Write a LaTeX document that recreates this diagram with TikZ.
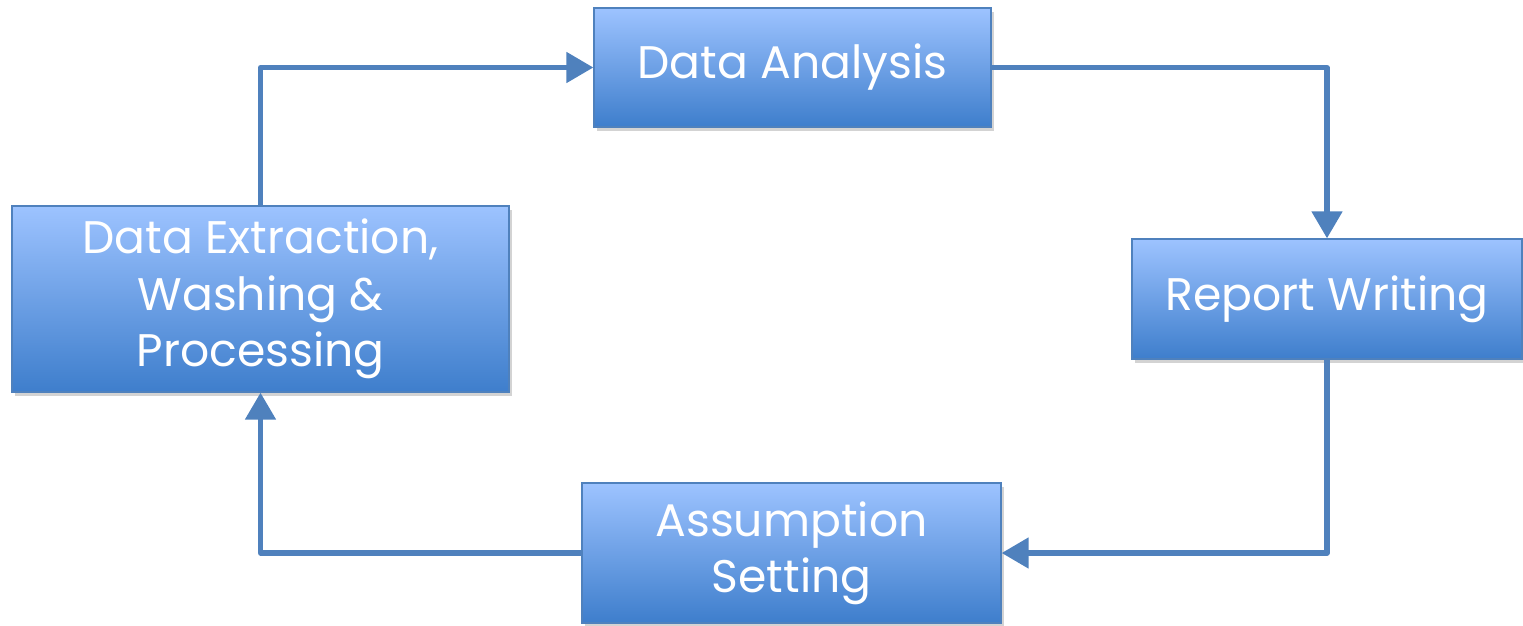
\documentclass[tikz,border=0pt]{standalone}
\usepackage{fontspec}
\setmainfont{Poppins}
\usepackage{tikz}
\usetikzlibrary{arrows.meta,shadows}
\definecolor{boxtop}{RGB}{157,195,255}
\definecolor{boxbottom}{RGB}{62,126,204}
\definecolor{boxline}{RGB}{79,129,189}
\tikzset{
	stage/.style={rectangle, draw=boxline, line width=0.8pt,
		top color=boxtop, bottom color=boxbottom, text=white,
		align=center, inner sep=0pt,
		font=\fontsize{26}{32}\selectfont,
		drop shadow={shadow xshift=1.5pt, shadow yshift=-2.5pt, opacity=0.35}},
	flow/.style={draw=boxline, line width=2.9pt, line join=round,
		-{Triangle[length=0.54cm, width=0.6cm]}}
}

\begin{document}
\begin{tikzpicture}[x=0.02cm, y=-0.02cm]
	\useasboundingbox (0,0) rectangle (1523,625);
	\node[stage, minimum width=7.94cm, minimum height=2.38cm] (ana) at (792.5,67.5) {Data Analysis};
	\node[stage, minimum width=9.94cm, minimum height=3.72cm] (ext) at (260.5,299) {Data Extraction,\\Washing \&\\Processing};
	\node[stage, minimum width=7.8cm, minimum height=2.4cm] (rep) at (1327,299) {Report Writing};
	\node[stage, minimum width=8.38cm, minimum height=2.8cm] (ass) at (791.5,553) {Assumption\\Setting};
	\draw[flow] (ext.north) |- (ana.west);
	\draw[flow] (ana.east) -| (rep.north);
	\draw[flow] (rep.south) |- (ass.east);
	\draw[flow] (ass.west) -| (ext.south);
\end{tikzpicture}
\end{document}
